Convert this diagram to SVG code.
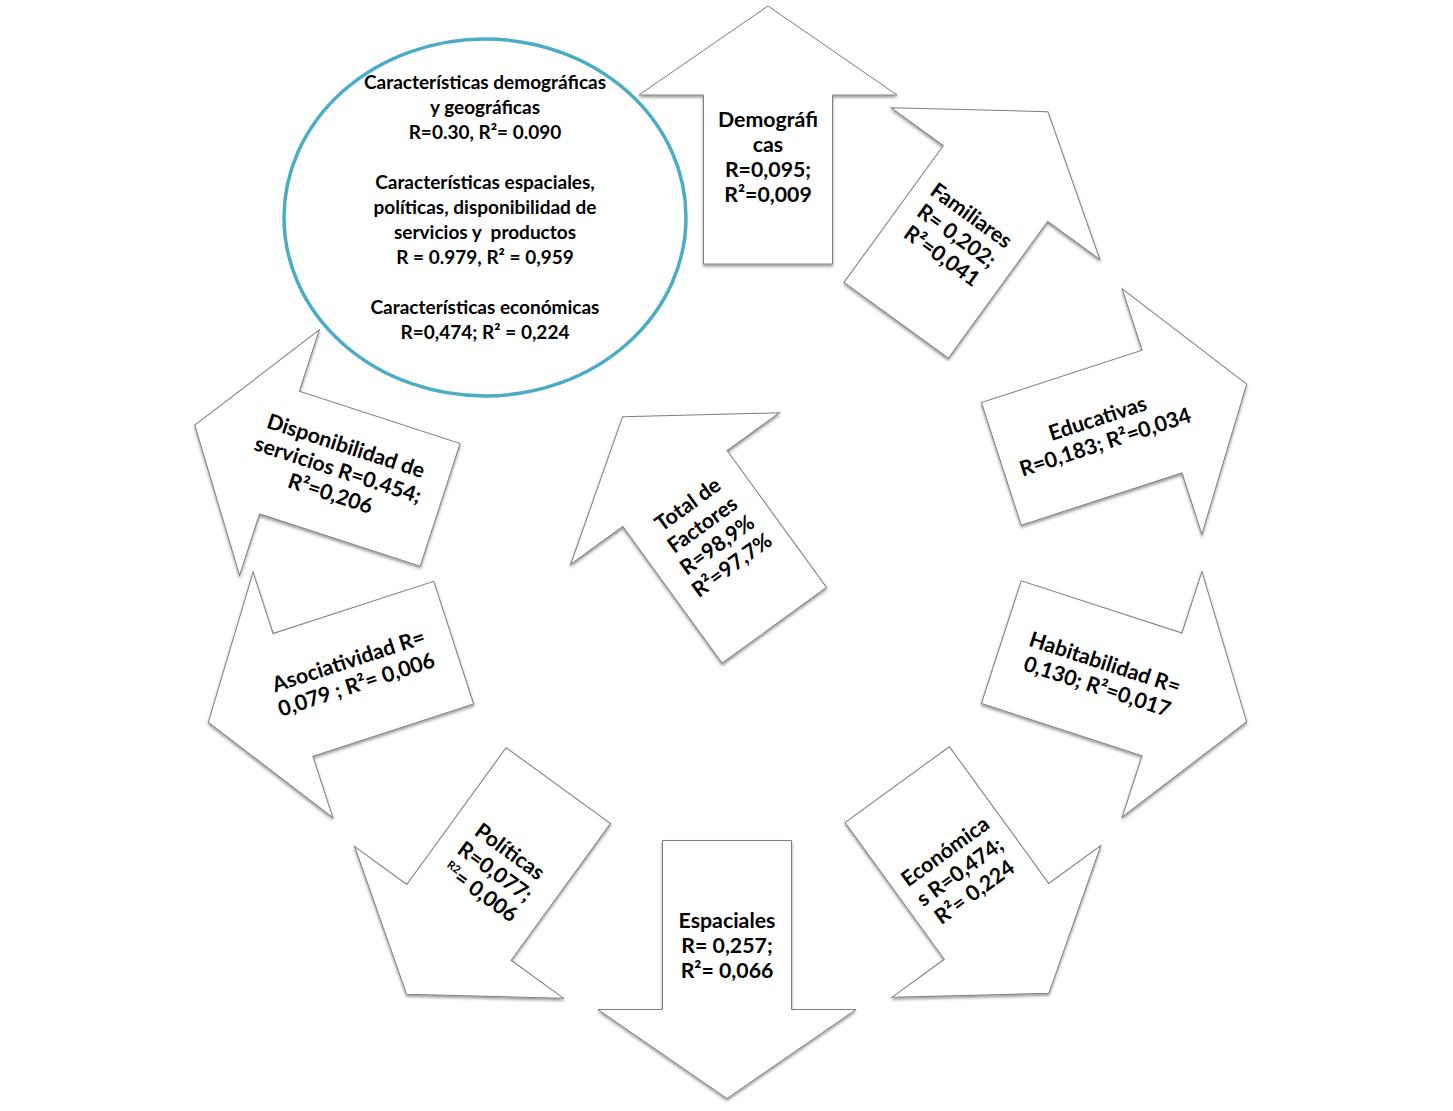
<svg xmlns="http://www.w3.org/2000/svg" xmlns:xlink="http://www.w3.org/1999/xlink" width="1453" height="1111" viewBox="0 0 1453 1111">
<style>
.arr{fill:#fff;stroke:#7f7f7f;stroke-width:1}
.t{font-family:Lato,"Open Sans","Liberation Sans",sans-serif;font-weight:bold;font-size:21.3px;text-anchor:middle;fill:#000}
.c{font-size:19px}
</style>
<defs>
<polygon id="shape" points="0,-129 129,-40 64.5,-40 64.5,129 -64.5,129 -64.5,-40 -129,-40"/>
<filter id="sh" x="-10%" y="-10%" width="120%" height="130%">
<feDropShadow dx="0" dy="2" stdDeviation="1.5" flood-color="#000" flood-opacity="0.4"/>
</filter>
</defs>
<rect width="1453" height="1111" fill="#fff"/>

<g id="demograficas">
<g filter="url(#sh)"><use xlink:href="#shape" class="arr" transform="translate(768,135) rotate(0)"/></g>
<g class="t" transform="translate(768,157) rotate(0)">
<text y="-30.5">Demográfi</text><text y="-5.5">cas</text><text y="19.5">R=0,095;</text><text y="44.5">R²=0,009</text>
</g>
</g>

<g id="familiares">
<g filter="url(#sh)"><use xlink:href="#shape" class="arr" transform="translate(972,216) rotate(36)"/></g>
<g class="t" transform="translate(956.5,236) rotate(36)">
<text y="-18">Familiares</text><text y="7">R= 0,202;</text><text y="32">R²=0,041</text>
</g>
</g>

<g id="educativas">
<g filter="url(#sh)"><use xlink:href="#shape" class="arr" transform="translate(1124,424) rotate(72)"/></g>
<g class="t" transform="translate(1101.5,430.5) rotate(-18)">
<text y="-5.5">Educativas</text><text y="19.5">R=0,183; R²=0,034</text>
</g>
</g>

<g id="habitabilidad">
<g filter="url(#sh)"><use xlink:href="#shape" class="arr" transform="translate(1124,682) rotate(108)"/></g>
<g class="t" transform="translate(1101,675) rotate(18)">
<text y="-5.5">Habitabilidad R=</text><text y="19.5">0,130; R²=0,017</text>
</g>
</g>

<g id="economicas">
<g filter="url(#sh)"><use xlink:href="#shape" class="arr" transform="translate(973,889) rotate(144)"/></g>
<g class="t" transform="translate(960,872) rotate(-36)">
<text y="-18">Económica</text><text y="7">s R=0,474;</text><text y="32">R²= 0,224</text>
</g>
</g>

<g id="espaciales">
<g filter="url(#sh)"><use xlink:href="#shape" class="arr" transform="translate(727,969.5) rotate(180)"/></g>
<g class="t" transform="translate(727,946) rotate(0)">
<text y="-18">Espaciales</text><text y="7">R= 0,257;</text><text y="32">R²= 0,066</text>
</g>
</g>

<g id="politicas">
<g filter="url(#sh)"><use xlink:href="#shape" class="arr" transform="translate(482.5,890) rotate(216)"/></g>
<g class="t" transform="translate(495,872) rotate(36)">
<text y="-18">Políticas</text><text y="7">R=0,077;</text><text y="32"><tspan font-size="11" dy="-8">R2</tspan><tspan dy="8">= 0,006</tspan></text>
</g>
</g>

<g id="asociatividad">
<g filter="url(#sh)"><use xlink:href="#shape" class="arr" transform="translate(331,682.5) rotate(252)"/></g>
<g class="t" transform="translate(352.5,673) rotate(-18)">
<text y="-5.5">Asociatividad R=</text><text y="19.5">0,079 ; R²= 0,006</text>
</g>
</g>

<g id="disponibilidad">
<g filter="url(#sh)"><use xlink:href="#shape" class="arr" transform="translate(317.5,465) rotate(288)"/></g>
<g class="t" transform="translate(338,470) rotate(18)">
<text y="-18">Disponibilidad de</text><text y="7">servicios R=0.454;</text><text y="32">R²=0,206</text>
</g>
</g>

<g id="total">
<g filter="url(#sh)"><use xlink:href="#shape" class="arr" transform="translate(698.5,521) rotate(-36)"/></g>
<g class="t" transform="translate(710,535) rotate(-36)">
<text y="-30.5">Total de</text><text y="-5.5">Factores</text><text y="19.5">R=98,9%</text><text y="44.5">R²=97,7%</text>
</g>
</g>

<g id="resumen">
<ellipse cx="485" cy="217.5" rx="201" ry="178.5" fill="#fff" stroke="#4BACC6" stroke-width="3.5"/>
<g class="t c">
<text x="485" y="89">Características demográficas</text>
<text x="485" y="114">y geográficas</text>
<text x="485" y="139">R=0.30, R²= 0.090</text>
<text x="485" y="189">Características espaciales,</text>
<text x="485" y="214">políticas, disponibilidad de</text>
<text x="485" y="239" xml:space="preserve">servicios y  productos</text>
<text x="485" y="264">R = 0.979, R² = 0,959</text>
<text x="485" y="314">Características económicas</text>
<text x="485" y="339">R=0,474; R² = 0,224</text>
</g>
</g>

<g id="connectors"/>
</svg>
